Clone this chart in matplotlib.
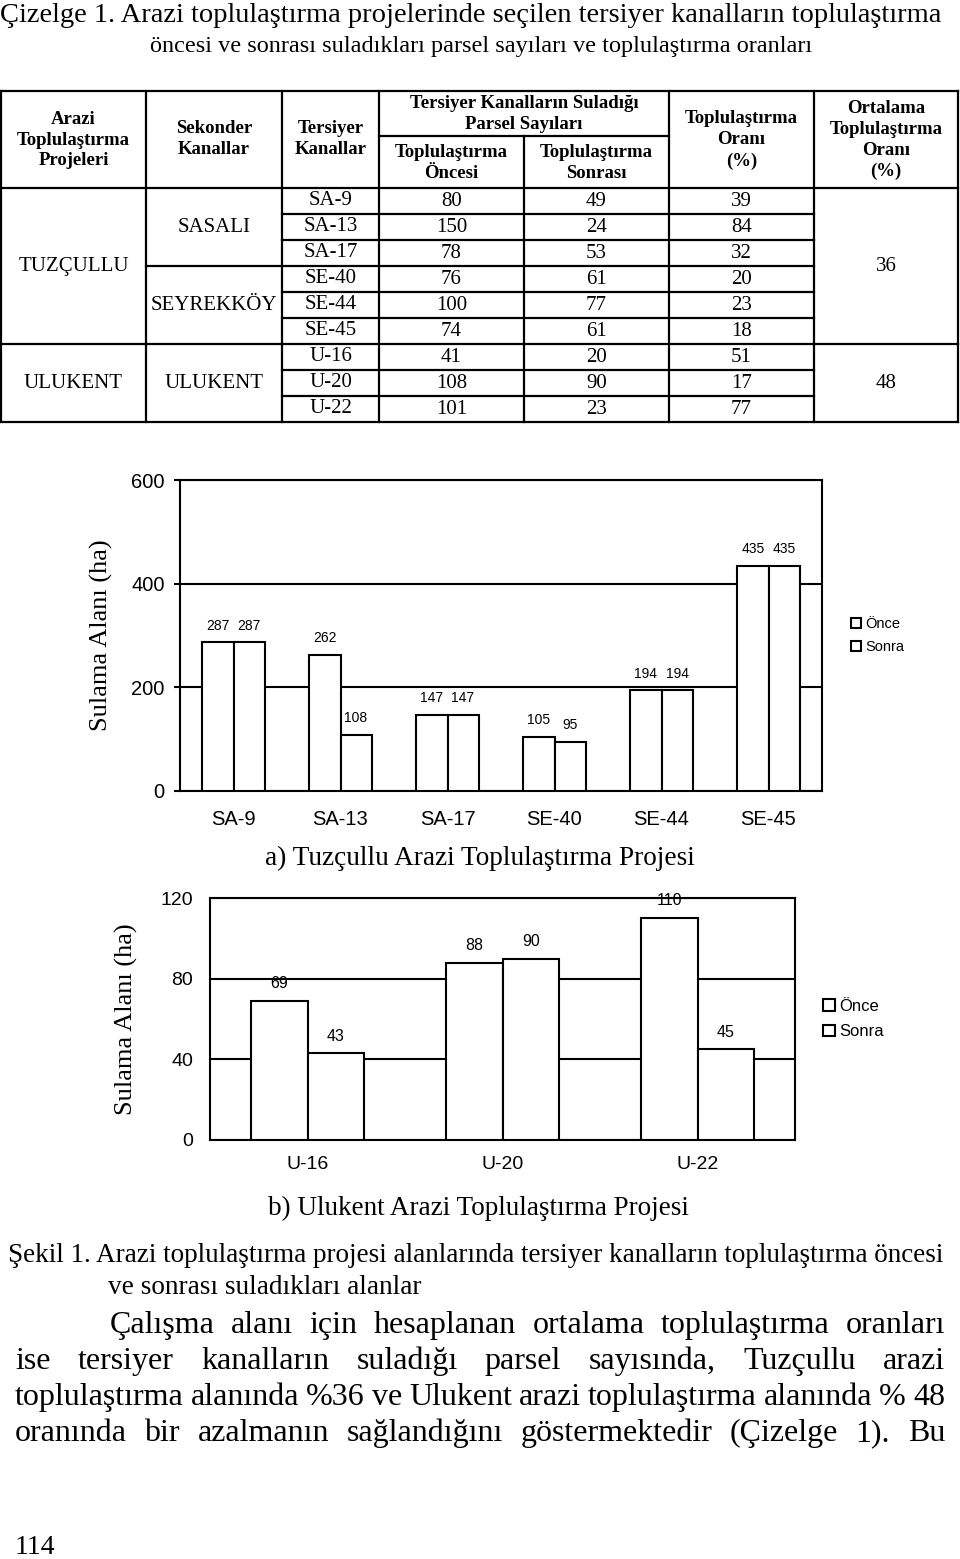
import numpy as np
import matplotlib.pyplot as plt
from matplotlib.patches import Patch

plt.rcParams['font.family'] = ['Liberation Serif', 'DejaVu Serif']
SANS = ['Liberation Sans', 'DejaVu Sans']

# Table 1 data
channels = ['SA-9', 'SA-13', 'SA-17', 'SE-40', 'SE-44', 'SE-45', 'U-16', 'U-20', 'U-22']
secondary = ['SASALI'] * 3 + ['SEYREKKÖY'] * 3 + ['ULUKENT'] * 3
projects = ['TUZÇULLU'] * 6 + ['ULUKENT'] * 3
parcels_before = [80, 150, 78, 76, 100, 74, 41, 108, 101]
parcels_after = [49, 24, 53, 61, 77, 61, 20, 90, 23]
ratio = [39, 84, 32, 20, 23, 18, 51, 17, 77]
mean_ratio = {'TUZÇULLU': 36, 'ULUKENT': 48}

# Figure 1 data (irrigated area, ha)
tuz_channels = ['SA-9', 'SA-13', 'SA-17', 'SE-40', 'SE-44', 'SE-45']
tuz_before = [287, 262, 147, 105, 194, 435]
tuz_after = [287, 108, 147, 95, 194, 435]
ulu_channels = ['U-16', 'U-20', 'U-22']
ulu_before = [69, 88, 110]
ulu_after = [43, 90, 45]

W, H = 960, 1559
fig = plt.figure(figsize=(W / 100, H / 100), dpi=100)
page = fig.add_axes([0, 0, 1, 1])
page.set_xlim(0, W)
page.set_ylim(H, 0)
page.axis('off')
renderer = fig.canvas.get_renderer()


def fit_line(x0, x1, y, s, size, **kw):
    t = page.text(x0, y, s, ha='left', va='center', fontsize=size, **kw)
    w = t.get_window_extent(renderer).width
    t.set_fontsize(size * (x1 - x0) / w)
    return t


def justify(x0, x1, y, s, size, **kw):
    # y is the baseline; shrink the font if the words do not fit
    words = s.split()
    while True:
        texts = [page.text(0, y, w, ha='left', va='baseline', fontsize=size, **kw)
                 for w in words]
        widths = [t.get_window_extent(renderer).width for t in texts]
        gap = (x1 - x0 - sum(widths)) / (len(words) - 1)
        if gap >= 0.22 * size:
            break
        for t in texts:
            t.remove()
        size -= 0.5
    x = x0
    for t, w in zip(texts, widths):
        t.set_x(x)
        x += w + gap


# Title
fit_line(0, 945, 15, 'Çizelge 1. Arazi toplulaştırma projelerinde seçilen tersiyer '
         'kanalların toplulaştırma', 20)
fit_line(150, 812, 46, 'öncesi ve sonrası suladıkları parsel sayıları ve '
         'toplulaştırma oranları', 20)

# Table
col_x = [1, 146, 282, 379, 524, 669, 814, 958]
tab_top, sub_line, head_bot, row_h = 91, 136, 188, 26
n = len(channels)
tab_bot = head_bot + n * row_h
lw = 1.6
for x in col_x:
    y0 = sub_line if x == col_x[4] else tab_top
    page.plot([x, x], [y0, tab_bot], color='black', lw=lw)
for y in [tab_top, head_bot, tab_bot]:
    page.plot([col_x[0], col_x[-1]], [y, y], color='black', lw=lw)
page.plot([col_x[3], col_x[5]], [sub_line, sub_line], color='black', lw=lw)
for i in range(1, n):
    y = head_bot + i * row_h
    if projects[i] != projects[i - 1]:
        xs = [col_x[0], col_x[-1]]
    elif secondary[i] != secondary[i - 1]:
        xs = [col_x[1], col_x[6]]
    else:
        xs = [col_x[2], col_x[6]]
    page.plot(xs, [y, y], color='black', lw=lw)

cx = [(a + b) / 2 for a, b in zip(col_x[:-1], col_x[1:])]
hk = dict(ha='center', va='center', fontsize=13.5, fontweight='bold',
          linespacing=1.3, multialignment='center')
page.text(cx[0], 140, 'Arazi\nToplulaştırma\nProjeleri', **hk)
page.text(cx[1], 139, 'Sekonder\nKanallar', **hk)
page.text(cx[2], 139, 'Tersiyer\nKanallar', **hk)
page.text((col_x[3] + col_x[5]) / 2, 114,
          'Tersiyer Kanalların Suladığı\nParsel Sayıları', **hk)
page.text(cx[3], 163, 'Toplulaştırma\nÖncesi', **hk)
page.text(cx[4], 163, 'Toplulaştırma\nSonrası', **hk)
page.text(cx[5], 140, 'Toplulaştırma\nOranı\n(%)', **hk)
page.text(cx[6], 140, 'Ortalama\nToplulaştırma\nOranı\n(%)', **hk)

bk = dict(ha='center', va='center', fontsize=15)
for i in range(n):
    yc = head_bot + (i + 0.5) * row_h
    page.text(cx[2], yc - 1, channels[i], **bk)
    page.text(cx[3], yc, str(parcels_before[i]), **bk)
    page.text(cx[4], yc, str(parcels_after[i]), **bk)
    page.text(cx[5], yc, str(ratio[i]), **bk)


def group_center(labels, name):
    idx = [i for i, v in enumerate(labels) if v == name]
    return head_bot + (idx[0] + idx[-1] + 1) / 2 * row_h


for name in dict.fromkeys(projects):
    yc = group_center(projects, name)
    page.text(cx[0], yc, name, **bk)
    page.text(cx[6], yc, str(mean_ratio[name]), **bk)
for name in dict.fromkeys(secondary):
    page.text(cx[1], group_center(secondary, name), name, **bk)


def bar_chart(rect, cats, before, after, ymax, yticks, tick_fs, lab_fs,
              leg_fs, leg_x, ylab_x, ypad, xpad, ticklen):
    ax = fig.add_axes([rect[0] / W, 1 - rect[3] / H,
                       (rect[2] - rect[0]) / W, (rect[3] - rect[1]) / H])
    x = np.arange(len(cats))
    w = 0.29
    b1 = ax.bar(x - w / 2, before, w, color='white', edgecolor='black',
                lw=1.5, zorder=3)
    b2 = ax.bar(x + w / 2, after, w, color='white', edgecolor='black',
                lw=1.5, zorder=3)
    for b in (b1, b2):
        for t in ax.bar_label(b, padding=7, fontsize=lab_fs, fontfamily=SANS):
            t.set_zorder(0.1)
    ax.set_xlim(-0.5, len(cats) - 0.5)
    ax.set_ylim(0, ymax)
    ax.set_xticks(x, cats, fontsize=tick_fs, fontfamily=SANS)
    ax.set_yticks(yticks, [str(v) for v in yticks], fontsize=tick_fs,
                  fontfamily=SANS)
    ax.tick_params(axis='x', length=0, pad=xpad)
    ax.tick_params(axis='y', length=ticklen, width=1.5, pad=ypad)
    ax.yaxis.grid(True, color='black', lw=1.5)
    ax.set_axisbelow(True)
    for s in ax.spines.values():
        s.set_linewidth(1.5)
    ax.set_ylabel('Sulama Alanı (ha)', fontsize=19)
    ax.yaxis.set_label_coords(ylab_x, 0.5)
    handles = [Patch(facecolor='white', edgecolor='black', lw=1.5, label='Önce'),
               Patch(facecolor='white', edgecolor='black', lw=1.5, label='Sonra')]
    ax.legend(handles=handles, loc='center left', bbox_to_anchor=(leg_x, 0.5),
              frameon=False, borderpad=0, borderaxespad=0, handlelength=0.7,
              handleheight=0.7, handletextpad=0.3, labelspacing=0.65,
              prop={'family': SANS, 'size': leg_fs})
    return ax


# a) Tuzcullu
bar_chart((180, 480, 822, 791), tuz_channels, tuz_before, tuz_after, 600,
          [0, 200, 400, 600], 14.5, 10, 10.5, 1.045, -0.104, 6.5, 14, 4.5)
fit_line(265, 695, 858, 'a) Tuzçullu Arazi Toplulaştırma Projesi', 18)

# b) Ulukent
bar_chart((210, 898, 795, 1140), ulu_channels, ulu_before, ulu_after, 120,
          [0, 40, 80, 120], 14, 11.5, 12, 1.048, -0.123, 12, 11.5, 0)
fit_line(268, 690, 1208, 'b) Ulukent Arazi Toplulaştırma Projesi', 18)

# Caption and body text
fit_line(8, 945, 1255, 'Şekil 1. Arazi toplulaştırma projesi alanlarında tersiyer '
         'kanalların toplulaştırma öncesi', 18)
fit_line(108, 420, 1287, 've sonrası suladıkları alanlar', 18)
justify(110, 945, 1333, 'Çalışma alanı için hesaplanan ortalama toplulaştırma '
        'oranları', 23)
justify(15, 945, 1369, 'ise tersiyer kanalların suladığı parsel sayısında, '
        'Tuzçullu arazi', 23)
justify(15, 945, 1405, 'toplulaştırma alanında %36 ve Ulukent arazi '
        'toplulaştırma alanında % 48', 23)
justify(15, 945, 1441, 'oranında bir azalmanın sağlandığını göstermektedir '
        '(Çizelge 1). Bu', 23)
page.text(15, 1548, '114', ha='left', va='center', fontsize=20)

fig.savefig('out.png', dpi=100)
